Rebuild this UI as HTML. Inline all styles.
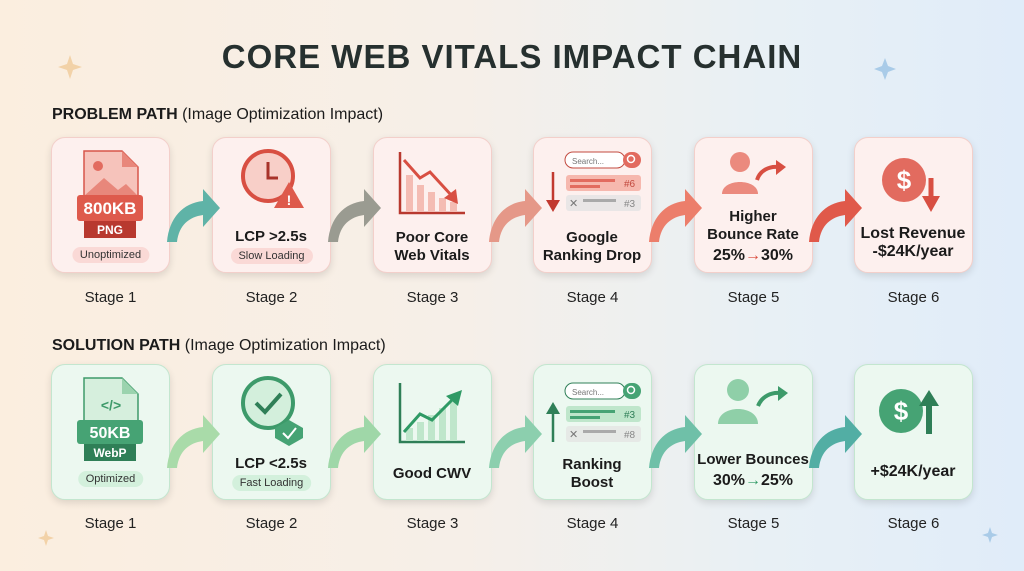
<!DOCTYPE html>
<html><head><meta charset="utf-8"><style>
*{margin:0;padding:0;box-sizing:border-box}
body{width:1024px;height:571px;overflow:hidden;font-family:"Liberation Sans",sans-serif;background:linear-gradient(90deg,#fbeedf 0%,#f6efe8 45%,#e8f0f5 75%,#e0ecf9 100%);position:relative;color:#1f2a2a}
.t{position:absolute;left:0;width:1024px;text-align:center;top:38px;font-size:33px;font-weight:bold;color:#26302f;letter-spacing:1px}
.h{position:absolute;left:52px;font-size:16px;font-weight:bold;color:#1b1b1b}
.h span{font-weight:normal}
.c{position:absolute;width:119px;height:136px;border-radius:14px;box-shadow:0 3px 8px rgba(0,0,0,.12)}
.r1{top:137px;background:#fdf0ee;border:1.5px solid #f3cfca}
.r2{top:364px;background:#ecf8f0;border:1.5px solid #c3e6cf}
.s{position:absolute;width:119px;text-align:center;font-size:15px;color:#222}
.l{position:absolute;width:119px;text-align:center;font-size:15px;font-weight:bold;line-height:18px;color:#1b1b1b}
.p{position:absolute;font-size:11px;border-radius:9px;padding:2px 8px;left:50%;transform:translateX(-50%);white-space:nowrap}
.pr{background:#fad9d6;color:#333}.pg{background:#d3f0dc;color:#333}
svg{position:absolute;left:0;top:0}
</style></head><body>
<div class="t">CORE WEB VITALS IMPACT CHAIN</div>
<div class="h" style="top:106px">PROBLEM PATH <span>(Image Optimization Impact)</span></div>
<div class="h" style="top:337px">SOLUTION PATH <span>(Image Optimization Impact)</span></div>

<div class="c r1" style="left:51px"><div class="p pr" style="top:109px">Unoptimized</div></div>
<div class="c r1" style="left:212px"><div class="l" style="top:90px;width:116px">LCP &gt;2.5s</div><div class="p pr" style="top:110px">Slow Loading</div></div>
<div class="c r1" style="left:373px"><div class="l" style="top:91px;width:116px">Poor Core<br>Web Vitals</div></div>
<div class="c r1" style="left:533px"><div class="l" style="top:91px;width:116px">Google<br>Ranking Drop</div></div>
<div class="c r1" style="left:694px"><div class="l" style="top:70px;width:116px">Higher<br>Bounce Rate<br><span style="font-size:16px;line-height:24px">25%<span style="color:#d9493a">→</span>30%</span></div></div>
<div class="c r1" style="left:854px"><div class="l" style="top:87px;width:116px;font-size:16px">Lost Revenue<br>-$24K/year</div></div>

<div class="c r2" style="left:51px"><div class="p pg" style="top:106px">Optimized</div></div>
<div class="c r2" style="left:212px"><div class="l" style="top:90px;width:116px">LCP &lt;2.5s</div><div class="p pg" style="top:110px">Fast Loading</div></div>
<div class="c r2" style="left:373px"><div class="l" style="top:100px;width:116px">Good CWV</div></div>
<div class="c r2" style="left:533px"><div class="l" style="top:91px;width:116px">Ranking<br>Boost</div></div>
<div class="c r2" style="left:694px"><div class="l" style="top:84px;width:116px;line-height:21px">Lower Bounces<br><span style="font-size:16px">30%<span style="color:#2f9a65">→</span>25%</span></div></div>
<div class="c r2" style="left:854px"><div class="l" style="top:98px;width:116px;font-size:16px">+$24K/year</div></div>

<div class="s" style="left:51px;top:289px">Stage 1</div><div class="s" style="left:212px;top:289px">Stage 2</div><div class="s" style="left:373px;top:289px">Stage 3</div><div class="s" style="left:533px;top:289px">Stage 4</div><div class="s" style="left:694px;top:289px">Stage 5</div><div class="s" style="left:854px;top:289px">Stage 6</div>
<div class="s" style="left:51px;top:515px">Stage 1</div><div class="s" style="left:212px;top:515px">Stage 2</div><div class="s" style="left:373px;top:515px">Stage 3</div><div class="s" style="left:533px;top:515px">Stage 4</div><div class="s" style="left:694px;top:515px">Stage 5</div><div class="s" style="left:854px;top:515px">Stage 6</div>

<svg width="1024" height="571" viewBox="0 0 1024 571">
<defs>
<g id="arr"><path d="M0 60 C2 36 16 21 36 19 L36 7 L53 26 L36 45 L36 33 C22 35 12 43 10 60 Z"/></g>
</defs>
<use href="#arr" x="167" y="182" fill="#5fb3a7"/>
<use href="#arr" x="328" y="182" fill="#9a9b91"/>
<use href="#arr" x="489" y="182" fill="#e59888"/>
<use href="#arr" x="649" y="182" fill="#ec7e6b"/>
<use href="#arr" x="809" y="182" fill="#e0594a"/>
<use href="#arr" x="167" y="408" fill="#a9dba9"/>
<use href="#arr" x="328" y="408" fill="#9fd7a8"/>
<use href="#arr" x="489" y="408" fill="#8ccfae"/>
<use href="#arr" x="649" y="408" fill="#6fc0a8"/>
<use href="#arr" x="809" y="408" fill="#52aea4"/>

<path d="M84 151 H122 L138 167 V214 H84 Z" fill="#f6c3bb" stroke="#d7564a" stroke-width="1.5"/>
<path d="M122 151 V167 H138" fill="#e8877b"/>
<circle cx="98" cy="166" r="5" fill="#e26b5f"/>
<path d="M84 196 L104 178 L118 190 L126 184 L138 196 Z" fill="#e8877b"/>
<rect x="77" y="195" width="66" height="26" rx="3" fill="#de5a4c"/>
<text x="110" y="214" font-size="17" font-weight="bold" fill="#fff" text-anchor="middle">800KB</text>
<rect x="84" y="221" width="52" height="17" fill="#b8392f"/>
<text x="110" y="234" font-size="12" font-weight="bold" fill="#fff" text-anchor="middle">PNG</text>
<path d="M84 378 H122 L138 394 V430 H84 Z" fill="#d6efdd" stroke="#3e9a6a" stroke-width="1.5"/>
<path d="M122 378 V394 H138" fill="#9bd3ae"/>
<text x="111" y="410" font-size="14" fill="#3e9a6a" text-anchor="middle" font-weight="bold">&lt;/&gt;</text>
<rect x="77" y="420" width="66" height="24" rx="3" fill="#46a374"/>
<text x="110" y="438" font-size="16" font-weight="bold" fill="#fff" text-anchor="middle">50KB</text>
<rect x="84" y="444" width="52" height="17" fill="#2f7f57"/>
<text x="110" y="457" font-size="12" font-weight="bold" fill="#fff" text-anchor="middle">WebP</text>
<circle cx="268" cy="176" r="25" fill="#f8cfc8" stroke="#d84f42" stroke-width="4"/>
<path d="M268 162 V178 H278" stroke="#a8332a" stroke-width="3" fill="none"/>
<path d="M289 182 L304 208 H274 Z" fill="#de5a4c"/>
<text x="289" y="205" font-size="14" font-weight="bold" fill="#fff" text-anchor="middle">!</text>
<circle cx="268" cy="403" r="25" fill="#d3efdc" stroke="#3d9a6a" stroke-width="4"/>
<path d="M256 403 L265 412 L281 394" stroke="#2f7f57" stroke-width="4" fill="none"/>
<path d="M289 420 L303 428 V438 L289 446 L275 438 V428 Z" fill="#46a374"/>
<path d="M283 433 L288 438 L296 428" stroke="#fff" stroke-width="2" fill="none"/>
<path d="M400 152 V213 H465" stroke="#b8392f" stroke-width="2.5" fill="none"/>
<g fill="#f4bcb3"><rect x="406" y="175" width="7" height="37"/><rect x="417" y="185" width="7" height="27"/><rect x="428" y="192" width="7" height="20"/><rect x="439" y="198" width="7" height="14"/><rect x="450" y="202" width="7" height="10"/></g>
<path d="M404 160 L420 178 L430 172 L452 196" stroke="#d84f42" stroke-width="3" fill="none"/>
<path d="M444 198 L458 204 L456 189 Z" fill="#d84f42"/>
<path d="M400 383 V442 H465" stroke="#2f7f57" stroke-width="2.5" fill="none"/>
<g fill="#bfe6cb"><rect x="406" y="428" width="7" height="13"/><rect x="417" y="422" width="7" height="19"/><rect x="428" y="415" width="7" height="26"/><rect x="439" y="408" width="7" height="33"/><rect x="450" y="402" width="7" height="39"/></g>
<path d="M404 432 L420 414 L432 420 L454 398" stroke="#2f9a65" stroke-width="3" fill="none"/>
<path d="M446 396 L462 390 L458 406 Z" fill="#2f9a65"/>
<rect x="565" y="152" width="60" height="16" rx="8" fill="#fff" stroke="#c24a3f"/>
<text x="572" y="164" font-size="8" fill="#777">Search...</text>
<rect x="623" y="152" width="18" height="16" rx="8" fill="#e26b5f"/>
<circle cx="631" cy="159" r="3.5" stroke="#fff" fill="none" stroke-width="1.5"/>
<rect x="566" y="175" width="75" height="16" rx="3" fill="#f6b8ae"/>
<rect x="570" y="179" width="45" height="3" fill="#e26b5f"/><rect x="570" y="185" width="30" height="3" fill="#e26b5f"/>
<text x="624" y="187" font-size="10" fill="#c24a3f">#6</text>
<rect x="566" y="195" width="75" height="16" rx="3" fill="#e9e6e6"/>
<text x="569" y="207" font-size="11" fill="#777">✕</text>
<rect x="583" y="199" width="33" height="3" fill="#aaa"/><text x="624" y="207" font-size="10" fill="#888">#3</text>
<path d="M553 172 V204" stroke="#c2392f" stroke-width="2.5"/><path d="M546 200 L553 212 L560 200 Z" fill="#c2392f"/>
<rect x="565" y="383" width="60" height="16" rx="8" fill="#fff" stroke="#2f7f57"/>
<text x="572" y="395" font-size="8" fill="#777">Search...</text>
<rect x="623" y="383" width="18" height="16" rx="8" fill="#46a374"/>
<circle cx="631" cy="390" r="3.5" stroke="#fff" fill="none" stroke-width="1.5"/>
<rect x="566" y="406" width="75" height="16" rx="3" fill="#bfe6cb"/>
<rect x="570" y="410" width="45" height="3" fill="#46a374"/><rect x="570" y="416" width="30" height="3" fill="#46a374"/>
<text x="624" y="418" font-size="10" fill="#2f7f57">#3</text>
<rect x="566" y="426" width="75" height="16" rx="3" fill="#e6e9e6"/>
<text x="569" y="438" font-size="11" fill="#777">✕</text>
<rect x="583" y="430" width="33" height="3" fill="#aaa"/><text x="624" y="438" font-size="10" fill="#888">#8</text>
<path d="M553 412 V442" stroke="#2f7f57" stroke-width="2.5"/><path d="M546 414 L553 402 L560 414 Z" fill="#2f7f57"/>
<circle cx="740" cy="162" r="10" fill="#eb8a7e"/>
<path d="M722 194 C722 178 758 178 758 194 Z" fill="#eb8a7e"/>
<path d="M757 180 C760 170 770 166 778 167" stroke="#d84f42" stroke-width="4" fill="none"/>
<path d="M776 160 L786 167 L776 175 Z" fill="#d84f42"/>
<circle cx="738" cy="390" r="11" fill="#8fcfa8"/>
<path d="M718 424 C718 404 758 404 758 424 Z" fill="#8fcfa8"/>
<path d="M758 406 C762 396 772 392 780 393" stroke="#3d9a6a" stroke-width="4" fill="none"/>
<path d="M778 386 L788 393 L778 401 Z" fill="#3d9a6a"/>
<circle cx="904" cy="180" r="22" fill="#e26b5f"/>
<text x="904" y="189" font-size="26" font-weight="bold" fill="#fff" text-anchor="middle">$</text>
<path d="M931 178 V200" stroke="#d84f42" stroke-width="5"/><path d="M922 196 L931 212 L940 196 Z" fill="#d84f42"/>
<circle cx="901" cy="411" r="22" fill="#46a374"/>
<text x="901" y="420" font-size="26" font-weight="bold" fill="#fff" text-anchor="middle">$</text>
<path d="M929 404 V434" stroke="#2f7f57" stroke-width="6"/><path d="M919 406 L929 390 L939 406 Z" fill="#2f7f57"/>
<g fill="#f2d2a8"><path d="M70 55 L73 64 L82 67 L73 70 L70 79 L67 70 L58 67 L67 64 Z"/><path d="M46 530 L48 536 L54 538 L48 540 L46 546 L44 540 L38 538 L44 536 Z"/></g>
<g fill="#a9cbe8"><path d="M885 58 L888 66 L896 69 L888 72 L885 80 L882 72 L874 69 L882 66 Z"/><path d="M990 527 L992 533 L998 535 L992 537 L990 543 L988 537 L982 535 L988 533 Z"/></g>
</svg>
</body></html>
